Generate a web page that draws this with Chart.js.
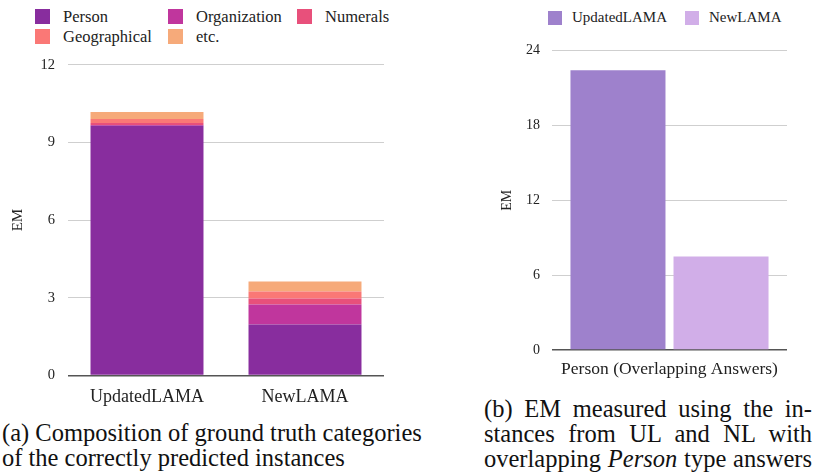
<!DOCTYPE html>
<html>
<head>
<meta charset="utf-8">
<script src="https://cdn.jsdelivr.net/npm/chart.js@4"></script>
<style>
  body{margin:0;width:813px;height:472px;background:#fff;font-family:'Liberation Serif', serif;color:#222;position:relative;overflow:hidden}
  .box{position:absolute}
  .legend{position:absolute;left:0;top:0;width:813px;height:48px}
  .legend .item{position:absolute;display:flex;align-items:center;font-family:'Liberation Serif', serif;line-height:15px}
  .legend .sw{width:15px;height:15px}
  .cap{position:absolute;font-family:'Liberation Serif', serif;font-size:24.5px;line-height:25px;color:#111}
  .cap .j{text-align:justify;text-align-last:justify}
</style>
</head>
<body>
<div class="legend" id="legend"></div>
<div class="box" style="left:0;top:43px;width:400px;height:368px"><canvas id="chartA"></canvas></div>
<div class="box" style="left:495px;top:30px;width:318px;height:351px"><canvas id="chartB"></canvas></div>
<div class="cap" style="left:2px;top:420px;width:440px">(a) Composition of ground truth categories<br>of the correctly predicted instances</div>
<div class="cap" style="left:484px;top:396px;width:328px">
  <div class="j">(b) EM measured using the in-</div>
  <div class="j">stances from UL and NL with</div>
  <div class="j">overlapping <i>Person</i> type answers</div>
</div>
<script>
// (a) composition of ground truth categories
const categories = ['UpdatedLAMA','NewLAMA'];
const person = [9.64, 1.97];
const organization = [0.03, 0.77];
const numerals = [0.08, 0.23];
const geographical = [0.15, 0.27];
const etc = [0.27, 0.39];
const ticksA = [0,3,6,9,12];

// (b) EM on overlapping Person answers
const groupB = ['Person (Overlapping Answers)'];
const updatedLama = [22.4];
const newLama = [7.5];
const ticksB = [0,6,12,18,24];

const $ = id => document.getElementById(id);
const fam = "'Liberation Serif', serif";
const gridCol = ctx => ctx.tick && ctx.tick.value===0 ? '#555' : '#cfcfcf';
const gridW = ctx => ctx.tick && ctx.tick.value===0 ? 1.5 : 1;

const seriesA = [
  {label:'Person', data:person, color:'#882d9e'},
  {label:'Organization', data:organization, color:'#c0369d'},
  {label:'Numerals', data:numerals, color:'#e8507b'},
  {label:'Geographical', data:geographical, color:'#fa7876'},
  {label:'etc.', data:etc, color:'#f6aa7a'}
];
const seriesB = [
  {label:'UpdatedLAMA', data:updatedLama, color:'#9e81cc'},
  {label:'NewLAMA', data:newLama, color:'#d1aee8'}
];

// html legends, columns placed like the figure
const legA = [[35,9],[168,9],[297,9],[35,29],[168,29]];
const legB = [[548,10],[685,10]];
$('legend').innerHTML =
  seriesA.map((s,i)=>`<div class="item" style="left:${legA[i][0]}px;top:${legA[i][1]}px;font-size:16.5px"><span class="sw" style="background:${s.color};margin-right:13px"></span><span>${s.label}</span></div>`).join('') +
  seriesB.map((s,i)=>`<div class="item" style="left:${legB[i][0]}px;top:${legB[i][1]}px;font-size:15px"><span class="sw" style="background:${s.color};width:14px;height:14px;margin-right:10px"></span><span>${s.label}</span></div>`).join('');

function draw(){
new Chart($('chartA'),{
  type:'bar',
  data:{labels:categories, datasets:seriesA.map(s=>({label:s.label,data:s.data,backgroundColor:s.color,borderWidth:0,categoryPercentage:1,barPercentage:0.715}))},
  options:{
    responsive:true, maintainAspectRatio:false, animation:false,
    layout:{padding:{left:0,right:16,top:1,bottom:0}},
    plugins:{legend:{display:false}, tooltip:{enabled:false}},
    scales:{
      x:{stacked:true, grid:{display:false}, border:{display:false}, ticks:{color:'#222', font:{family:fam, size:18}, padding:3}},
      y:{stacked:true, min:0, max:12, afterBuildTicks:ax=>{ax.ticks=ticksA.map(v=>({value:v}));},
         afterFit:s=>{s.width=68;},
         grid:{color:gridCol, lineWidth:gridW, drawTicks:false},
         border:{display:false},
         ticks:{color:'#222', font:{family:fam, size:14.5}, padding:13},
         title:{display:true, text:'EM', color:'#222', font:{family:fam, size:15}, padding:{top:9,bottom:0}}}
    }
  }
});

new Chart($('chartB'),{
  type:'bar',
  data:{labels:groupB, datasets:seriesB.map(s=>({label:s.label,data:s.data,backgroundColor:s.color,borderWidth:0,categoryPercentage:0.877,barPercentage:0.922}))},
  options:{
    responsive:true, maintainAspectRatio:false, animation:false,
    layout:{padding:{left:0,right:26,top:9,bottom:0}},
    plugins:{legend:{display:false}, tooltip:{enabled:false}},
    scales:{
      x:{grid:{display:false}, border:{display:false}, ticks:{color:'#222', font:{family:fam, size:17.5}, padding:1}},
      y:{min:0, max:24, afterBuildTicks:ax=>{ax.ticks=ticksB.map(v=>({value:v}));},
         afterFit:s=>{s.width=57;},
         grid:{color:gridCol, lineWidth:gridW, drawTicks:false},
         border:{display:false},
         ticks:{color:'#222', font:{family:fam, size:14}, padding:12},
         title:{display:true, text:'EM', color:'#222', font:{family:fam, size:14}, padding:{top:4,bottom:0}}}
    }
  }
});
}
(document.fonts ? document.fonts.load("15px 'Liberation Serif'") : Promise.resolve()).then(draw, draw);
</script>
</body>
</html>
